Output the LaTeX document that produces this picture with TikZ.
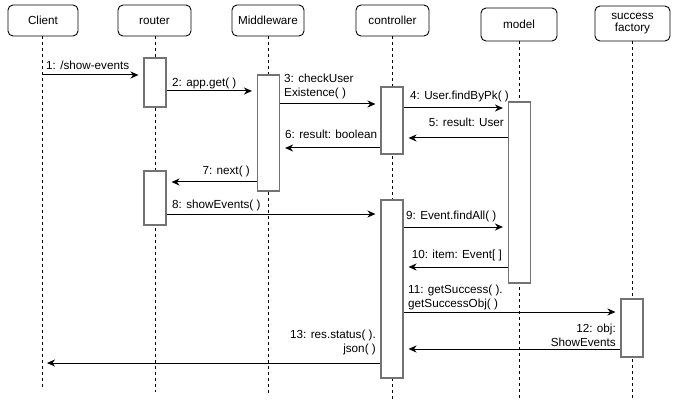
\documentclass[tikz,border=0pt]{standalone}
\usepackage{fontspec}
\setmainfont{Liberation Sans}
\usetikzlibrary{arrows.meta}
\begin{document}
\begin{tikzpicture}[x=1pt,y=-1pt,
  font=\fontsize{11.7}{14}\selectfont,
  actor/.style={draw=black,line width=0.9pt,rounded corners=5pt,fill=white,inner sep=0pt,align=center},
  lifeline/.style={draw=black,line width=0.9pt,dash pattern=on 3pt off 3pt},
  activation/.style={draw=black!55,line width=1.1pt,fill=white,minimum width=22pt,inner sep=0pt},
  msg/.style={draw=black,line width=1pt,-{Stealth[length=8pt,width=7pt,inset=2.5pt]},shorten >=5pt},
  lbl/.style={inner sep=0pt,text depth=3pt},
]
\useasboundingbox (0,0) rectangle (675,409);

% participants
\node[actor,minimum width=70pt,minimum height=31pt] (client) at (43,20.5) {Client};
\node[actor,minimum width=73pt,minimum height=31pt] (router) at (154.5,20.5) {router};
\node[actor,minimum width=72pt,minimum height=31pt] (mware) at (268,20.5) {Middleware};
\node[actor,minimum width=73pt,minimum height=31pt] (ctrl) at (392.5,20.5) {controller};
\node[actor,minimum width=76pt,minimum height=33pt] (model) at (519,24.5) {model};
\node[actor,minimum width=75pt,minimum height=35pt] (sfact) at (632.5,23.5) {success\\[-2pt]factory};

% lifeline ends
\coordinate (clientEnd) at (42,389);
\coordinate (routerEnd) at (155,392);
\coordinate (mwareEnd) at (268,395);
\coordinate (ctrlEnd) at (392,399);
\coordinate (modelEnd) at (519,400);
\coordinate (sfactEnd) at (632,401);

\draw[lifeline] (clientEnd |- client.south) -- (clientEnd);
\draw[lifeline] (routerEnd |- router.south) -- (routerEnd);
\draw[lifeline] (mwareEnd |- mware.south) -- (mwareEnd);
\draw[lifeline] (ctrlEnd |- ctrl.south) -- (ctrlEnd);
\draw[lifeline] (modelEnd |- model.south) -- (modelEnd);
\draw[lifeline] (sfactEnd |- sfact.south) -- (sfactEnd);

% activation bars
\node[activation,minimum height=49pt] (r1) at (155,82.5) {};
\node[activation,minimum height=116pt] (mw) at (268.5,133) {};
\node[activation,minimum height=67pt] (c1) at (392,120.5) {};
\node[activation,minimum height=181pt] (mo) at (519.5,192.5) {};
\node[activation,minimum height=54pt] (r2) at (155,198) {};
\node[activation,minimum height=178pt] (c2) at (392,289) {};
\node[activation,minimum height=58pt] (sf) at (632,328) {};

% messages
\draw[msg] (clientEnd |- 0,75) -- (r1.west |- 0,75);
\draw[msg] (r1.east |- 0,91) -- (mw.west |- 0,91);
\draw[msg] (mw.east |- 0,104) -- (c1.west |- 0,104);
\draw[msg] (c1.east |- 0,108) -- (mo.west |- 0,108);
\draw[msg] (mo.west |- 0,138) -- (c1.east |- 0,138);
\draw[msg] (c1.west |- 0,148) -- (mw.east |- 0,148);
\draw[msg] (mw.west |- 0,182) -- (r2.east |- 0,182);
\draw[msg] (r2.east |- 0,214) -- (c2.west |- 0,214);
\draw[msg] (c2.east |- 0,227) -- (mo.west |- 0,227);
\draw[msg] (mo.west |- 0,267) -- (c2.east |- 0,267);
\draw[msg] (c2.east |- 0,312) -- (sf.west |- 0,312);
\draw[msg] (sf.west |- 0,349) -- (c2.east |- 0,349);
\draw[msg] (c2.west |- 0,363) -- (clientEnd |- 0,363);

% message labels
\node[lbl,anchor=south west] (l1) at (46,73) {1: /show-events};
\node[lbl,anchor=south west] (l2) at (172,90) {2: app.get( )};
\node[lbl,anchor=south west,align=left] (l3) at (284,99.5) {3: checkUser\\Existence( )};
\node[lbl,anchor=south east] (l4) at (509,103) {4: User.findByPk( )};
\node[lbl,anchor=south east] (l5) at (504,129.5) {5: result: User};
\node[lbl,anchor=south west] (l6) at (285,142) {6: result: boolean};
\node[lbl,anchor=south east] (l7) at (250,178) {7: next( )};
\node[lbl,anchor=south west] (l8) at (172,212) {8: showEvents( )};
\node[lbl,anchor=south west] (l9) at (406,223) {9: Event.findAll( )};
\node[lbl,anchor=south east] (l10) at (502,262) {10: item: Event[ ]};
\node[lbl,anchor=south west,align=left] (l11) at (408,311) {11: getSuccess( ).\\getSuccessObj( )};
\node[lbl,anchor=south east,align=right] (l12) at (616,350) {12: obj:\\ShowEvents};
\node[lbl,anchor=south east,align=right] (l13) at (376,356) {13: res.status( ).\\json( )};
\end{tikzpicture}
\end{document}
